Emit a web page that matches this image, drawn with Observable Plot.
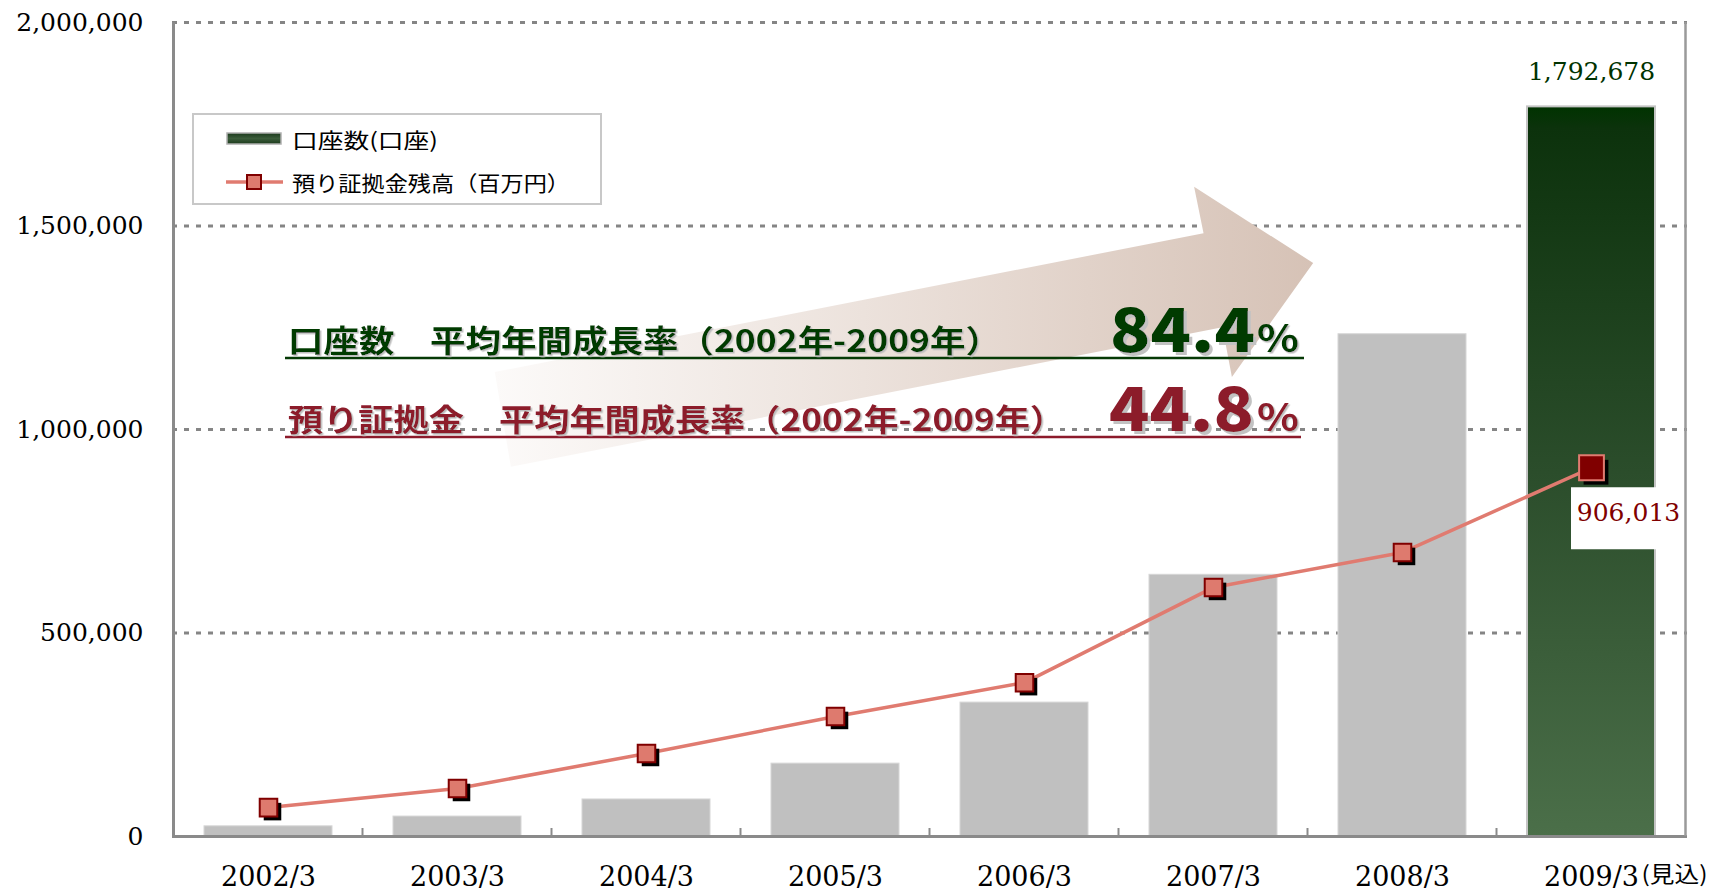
<!DOCTYPE html>
<html><head><meta charset="utf-8">
<script src="https://cdn.jsdelivr.net/npm/d3@7"></script>
<script src="https://cdn.jsdelivr.net/npm/@observablehq/plot@0.6"></script>
<style>
html,body{margin:0;padding:0;background:#fff;}
#chart{position:relative;width:1721px;height:894px;}
#chart [aria-label^="x-axis"] text{font-size:27px;}
</style></head><body>
<svg width="0" height="0" style="position:absolute">
<defs>
<linearGradient id="greenGrad" x1="0" y1="0" x2="0" y2="1">
<stop offset="0" stop-color="#003300"/>
<stop offset="0.03" stop-color="#0c320c"/>
<stop offset="0.5" stop-color="#2b4d2b"/>
<stop offset="1" stop-color="#4b6f49"/>
</linearGradient>
<linearGradient id="swatchGrad" x1="0" y1="0" x2="0" y2="1">
<stop offset="0" stop-color="#1c3a1c"/>
<stop offset="0.5" stop-color="#3b5c3a"/>
<stop offset="1" stop-color="#1c3a1c"/>
</linearGradient>
<filter id="shadowS" x="-5%" y="-20%" width="115%" height="150%">
<feDropShadow dx="1.5" dy="1.5" stdDeviation="0.4" flood-color="#bdbdbd" flood-opacity="1"/>
</filter>
<filter id="shadowL" x="-5%" y="-20%" width="115%" height="150%">
<feDropShadow dx="3" dy="3" stdDeviation="0.5" flood-color="#c2c2c2" flood-opacity="1"/>
</filter>
</defs></svg>
<div id="chart"></div>
<script>
// ---- data ----
const categories = ["2002/3","2003/3","2004/3","2005/3","2006/3","2007/3","2008/3","2009/3"];
const accounts = [25000, 49000, 91000, 179000, 329000, 643000, 1234000, 1792678];
const deposits = [71000, 118000, 204000, 295000, 378000, 612000, 698000, 906013];
const yTicks = [0, 500000, 1000000, 1500000, 2000000];
const forecastSuffix = "(見込)";
const seriesNames = ["口座数(口座)", "預り証拠金残高（百万円）"];
const growthLabels = ["口座数　平均年間成長率（2002年-2009年）", "預り証拠金　平均年間成長率（2002年-2009年）"];
const growthRates = ["84.4", "44.8"];
// decorative arrow outline: [category offset, value]
const arrowShape = [[1.2,1140000],[4.95,1481000],[4.9,1595000],[5.53,1408000],[5.1,1128000],[5.05,1250000],[1.285,907000]];

const data = categories.map((c,i)=>({cat:c, accounts:accounts[i], deposits:deposits[i]}));
const last = categories[categories.length-1];
const lastRow = data.filter(d=>d.cat===last);
const restRows = data.filter(d=>d.cat!==last);
const fmt = d3.format(",");

const plot = Plot.plot({
  width: 1721, height: 894,
  marginLeft: 172, marginRight: 34, marginTop: 22, marginBottom: 58,
  style: {background: "white", fontFamily: "'DejaVu Serif', serif", fontSize: "25px", color: "#000", overflow: "visible"},
  x: {domain: categories, paddingInner: 0.324, paddingOuter: 0.162, label: null, tickSize: 0, tickPadding: 30},
  y: {domain: [0, 2000000], ticks: yTicks, tickFormat: fmt, label: null, tickSize: 0, tickPadding: 29},
  marks: [
    Plot.ruleY(yTicks.filter(d=>d>0), {stroke:"#858585", strokeWidth:3, strokeDasharray:"5,7"}),
    Plot.barY(restRows, {x:"cat", y:"accounts", fill:"#c0c0c0", stroke:"#d6d6d6", strokeWidth:1}),
    Plot.barY(lastRow, {x:"cat", y:"accounts", fill:"url(#greenGrad)", stroke:"#c4c4c4", strokeWidth:2}),
    Plot.ruleY([0], {stroke:"#8a8a8a", strokeWidth:3}),
    Plot.line(data, {x:"cat", y:"deposits", stroke:"#e07b70", strokeWidth:3.5}),
    Plot.dot(restRows, {x:"cat", y:"deposits", symbol:"square", r:9.9, fill:"#000", dx:4, dy:4}),
    Plot.dot(restRows, {x:"cat", y:"deposits", symbol:"square", r:9.9, fill:"#de7a6e", stroke:"#800000", strokeWidth:2}),
    Plot.dot(lastRow, {x:"cat", y:"deposits", symbol:"square", r:14, fill:"#000", dx:4.5, dy:4.5}),
    Plot.dot(lastRow, {x:"cat", y:"deposits", symbol:"square", r:14, fill:"#800000", stroke:"#e07b70", strokeWidth:2}),
    Plot.text(lastRow, {x:"cat", y:"accounts", text: d=>fmt(d.accounts), dy:-35, fill:"#003300", fontSize:25}),
    Plot.text(lastRow, {x:"cat", y:"deposits", text: d=>fmt(d.deposits), dx:37, dy:45, fill:"#800000", fontSize:25}),
    Plot.text([{cat:last, s:forecastSuffix}], {x:"cat", text:"s", frameAnchor:"bottom", lineAnchor:"middle", dy:38, dx:50, textAnchor:"start", fontFamily:"'Noto Sans CJK JP', sans-serif", fontSize:22, fill:"#000"})
  ]
});
document.getElementById("chart").appendChild(plot);

// ---- decorations ----
const svg = d3.select(plot);
const xs = plot.scale("x"), ys = plot.scale("y");
const bw = xs.bandwidth != null ? xs.bandwidth : 128;
const step = xs.step != null ? xs.step : 189.375;
const x0 = xs.apply(categories[0]) + bw/2;
const px = i => x0 + i*step;
const left = xs.apply(categories[0]) - (step-bw)/2;
const right = left + step*categories.length;
const yTop = ys.apply(2000000), yBot = ys.apply(0);

// stretch the forecast suffix to the reference width
svg.selectAll("text").each(function(){
  if (this.textContent === forecastSuffix) d3.select(this).attr("textLength", 66).attr("lengthAdjust","spacingAndGlyphs");
});

// frame lines
svg.append("line").attr("x1",left).attr("x2",left).attr("y1",yTop).attr("y2",yBot+1.5).attr("stroke","#8a8a8a").attr("stroke-width",3);
svg.append("line").attr("x1",right).attr("x2",right).attr("y1",yTop).attr("y2",yBot).attr("stroke","#9a9a9a").attr("stroke-width",2.5);
for (let i=1;i<categories.length;i++){
  const bx = left + i*step;
  svg.append("line").attr("x1",bx).attr("x2",bx).attr("y1",yBot).attr("y2",yBot-8).attr("stroke","#8a8a8a").attr("stroke-width",2);
}

// arrow
const pts = arrowShape.map(([i,v])=>[px(i), ys.apply(v)]);
const xsMin = d3.min(pts,d=>d[0]), xsMax = d3.max(pts,d=>d[0]);
const defs = svg.append("defs");
const ag = defs.append("linearGradient").attr("id","arrowGrad").attr("gradientUnits","userSpaceOnUse")
  .attr("x1",xsMin).attr("y1",0).attr("x2",xsMax).attr("y2",0);
ag.append("stop").attr("offset",0).attr("stop-color","#fcfaf9");
ag.append("stop").attr("offset",0.45).attr("stop-color","#ece2dc");
ag.append("stop").attr("offset",1).attr("stop-color","#d6c2b6");
const arrowG = document.createElementNS("http://www.w3.org/2000/svg","g");
d3.select(arrowG).append("polygon").attr("points", pts.map(p=>p.join(",")).join(" ")).attr("fill","url(#arrowGrad)");
const firstBar = plot.querySelector('g[aria-label="bar"]');
if (firstBar) plot.insertBefore(arrowG, firstBar); else plot.appendChild(arrowG);

// white box behind 906,013 label
const lx = xs.apply(last) + bw/2, ly = ys.apply(deposits[deposits.length-1]);
let labelG = null;
svg.selectAll("text").each(function(){ if (this.textContent === fmt(deposits[deposits.length-1])) labelG = this.parentNode; });
if (labelG) {
  const r = document.createElementNS("http://www.w3.org/2000/svg","rect");
  d3.select(r).attr("x", lx-20).attr("y", ly+20).attr("width", xs.apply(last)+bw - (lx-20) + 1).attr("height", 62).attr("fill","#fff");
  labelG.parentNode.insertBefore(r, labelG);
}

function txt(parent, o){
  const t = parent.append("text").attr("x",o.x).attr("y",o.y)
    .attr("font-family",o.family||"'Noto Sans CJK JP', sans-serif").attr("font-size",o.size)
    .attr("font-weight",o.weight||400).attr("fill",o.fill).attr("text-anchor","start")
    .text(o.text);
  if (o.baseline) t.attr("dominant-baseline", o.baseline);
  if (o.len) t.attr("textLength",o.len).attr("lengthAdjust","spacingAndGlyphs");
  if (o.filter) t.attr("filter", o.filter);
  return t;
}

// growth annotations
const ann = svg.append("g");
const annColors = ["#053a05", "#8c1a2b"];
const annBase = [352, 431];
const annLabelLen = [713, 777];
const annRateX = [1110, 1109];
const annPctX = [1257, 1257];
const annLineEnd = [1304, 1301];
growthLabels.forEach((lab,k)=>{
  ann.append("line").attr("x1",285).attr("x2",annLineEnd[k]).attr("y1",annBase[k]+6).attr("y2",annBase[k]+6)
    .attr("stroke",annColors[k]).attr("stroke-width",2.5);
  txt(ann, {x:288, y:annBase[k], text:lab, size:31, weight:700, fill:annColors[k], len:annLabelLen[k], filter:"url(#shadowS)"});
  txt(ann, {x:annRateX[k], y:annBase[k], text:growthRates[k], size:60, weight:900, fill:annColors[k], len:145, filter:"url(#shadowL)"});
  txt(ann, {x:annPctX[k], y:annBase[k], text:"%", size:38, weight:700, fill:annColors[k], len:42, filter:"url(#shadowS)"});
});

// legend
const lg = svg.append("g");
lg.append("rect").attr("x",193).attr("y",114).attr("width",408).attr("height",90).attr("fill","#fff").attr("stroke","#c8c8c8").attr("stroke-width",2);
lg.append("rect").attr("x",227).attr("y",133).attr("width",54).attr("height",11).attr("fill","url(#swatchGrad)").attr("stroke","#b0b0b0").attr("stroke-width",1.5);
txt(lg, {x:292, y:139, text:seriesNames[0], size:21, fill:"#000", len:146, baseline:"central"});
lg.append("line").attr("x1",226).attr("x2",283).attr("y1",182).attr("y2",182).attr("stroke","#e07b70").attr("stroke-width",3.5);
lg.append("rect").attr("x",247).attr("y",175).attr("width",14).attr("height",14).attr("fill","#de7a6e").attr("stroke","#800000").attr("stroke-width",2);
txt(lg, {x:292, y:182, text:seriesNames[1], size:21, fill:"#000", len:278, baseline:"central"});
</script>
</body></html>
